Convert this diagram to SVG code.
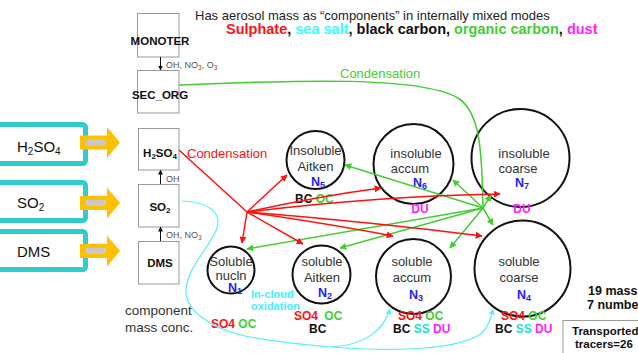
<svg xmlns="http://www.w3.org/2000/svg" width="638" height="353" viewBox="0 0 638 353">
<defs>
<style>
text{font-family:"Liberation Sans",Arial,sans-serif}
.src{fill:#fff;stroke:#33CCCC;stroke-width:5}
.srct{font-size:15px;fill:#111}
.ob{fill:#FFC000}
.gb{fill:#C8C8C8}
.box{fill:#fff;stroke:#999;stroke-width:1}
.bt{font-size:11.5px;font-weight:bold;text-anchor:middle;fill:#111}
.sm{font-size:9px;fill:#555}
.circ{fill:none;stroke:#111;stroke-width:2}
.cl{font-size:13px;fill:#333;text-anchor:middle}
.nl{font-size:12.5px;font-weight:bold;fill:#2222FF}
.comp{font-size:12px;font-weight:bold}
.red{stroke:#FF1111;stroke-width:1.5;fill:none}
.grn{stroke:#44CC33;stroke-width:1.5;fill:none}
.cyn{stroke:#55EEFF;stroke-width:1.2;fill:none}
</style>
<marker id="ar" viewBox="0 0 10 10" refX="9" refY="5" markerWidth="7" markerHeight="7" markerUnits="userSpaceOnUse" orient="auto"><path d="M0,0 L10,5 L0,10 z" fill="#FF1111"/></marker>
<marker id="ag" viewBox="0 0 10 10" refX="9" refY="5" markerWidth="7" markerHeight="7" markerUnits="userSpaceOnUse" orient="auto"><path d="M0,0 L10,5 L0,10 z" fill="#44CC33"/></marker>
<marker id="ac" viewBox="0 0 10 10" refX="9" refY="5" markerWidth="6" markerHeight="6" markerUnits="userSpaceOnUse" orient="auto"><path d="M0,0 L10,5 L0,10 z" fill="#55EEFF"/></marker>
<marker id="ak" viewBox="0 0 10 10" refX="9" refY="5" markerWidth="5" markerHeight="5" markerUnits="userSpaceOnUse" orient="auto"><path d="M0,0 L10,5 L0,10 z" fill="#111"/></marker>
<path id="oarrow" d="M0,-7 L27,-7 L27,-15.5 L40,0 L27,15.5 L27,7 L0,7 z"/>
</defs>

<rect width="638" height="353" fill="#fff"/>

<!-- header -->
<text x="195" y="20" font-size="13" fill="#222">Has aerosol mass as “components”  in internally mixed modes</text>
<text x="226" y="34" font-size="14.5" font-weight="bold"><tspan fill="#FF1111">Sulphate</tspan><tspan fill="#111">, </tspan><tspan fill="#33FFFF">sea salt</tspan><tspan fill="#111">, black carbon, </tspan><tspan fill="#44CC33">organic carbon</tspan><tspan fill="#111">, </tspan><tspan fill="#FF22FF">dust</tspan></text>

<!-- source boxes -->
<g id="src-h2so4">
<rect class="src" x="-5" y="124.5" width="90.5" height="39" rx="3"/>
<text class="srct" x="17" y="152">H<tspan font-size="10" dy="3">2</tspan><tspan dy="-3">SO</tspan><tspan font-size="10" dy="3">4</tspan></text>
<use href="#oarrow" x="80" y="142.5" class="ob"/>
<rect class="gb" x="86" y="139.5" width="20" height="6"/>
</g>
<g id="src-so2">
<rect class="src" x="-5" y="182.5" width="90.5" height="38" rx="3"/>
<text class="srct" x="17" y="208">SO<tspan font-size="10" dy="3">2</tspan></text>
<use href="#oarrow" x="80" y="203" class="ob"/>
<rect class="gb" x="86" y="200" width="20" height="6"/>
</g>
<g id="src-dms">
<rect class="src" x="-5" y="231.5" width="90.5" height="38" rx="3"/>
<text class="srct" x="17" y="257">DMS</text>
<use href="#oarrow" x="80" y="251" class="ob"/>
<rect class="gb" x="86" y="248" width="20" height="6"/>
</g>

<!-- chemistry column -->
<g id="monoter">
<rect class="box" x="137.5" y="13.5" width="41.5" height="43.5"/>
<text class="bt" x="160" y="45">MONOTER</text>
</g>
<g id="sec_org">
<rect class="box" x="137.5" y="70.5" width="41.5" height="42.5" stroke="#99DD99"/>
<text class="bt" x="160" y="99" fill="#22CC22">SEC_ORG</text>
</g>
<g id="h2so4">
<rect class="box" x="138.5" y="128.5" width="40.5" height="41.5" stroke="#FF9999"/>
<text class="bt" x="160" y="157" fill="#FF1111">H<tspan font-size="8" dy="2">2</tspan><tspan dy="-2">SO</tspan><tspan font-size="8" dy="2">4</tspan></text>
</g>
<g id="so2">
<rect class="box" x="138.5" y="184.5" width="40.5" height="42.5"/>
<text class="bt" x="160" y="211">SO<tspan font-size="8" dy="2">2</tspan></text>
</g>
<g id="dms">
<rect class="box" x="138.5" y="241.5" width="40.5" height="42.5"/>
<text class="bt" x="160" y="267">DMS</text>
</g>
<text x="125" y="315" font-size="13.5" fill="#333">component</text>
<text x="125" y="332" font-size="13.5" fill="#333">mass conc.</text>

<!-- modes -->
<g id="ins-aitken">
<circle class="circ" cx="315.5" cy="160" r="29"/>
<text class="cl" x="315.5" y="155">Insoluble</text>
<text class="cl" x="315.5" y="171">Aitken</text>
<text class="nl" x="311" y="186">N<tspan font-size="9" dy="2">5</tspan></text>
<text class="comp" x="295" y="203"><tspan fill="#111">BC </tspan><tspan fill="#44CC33">OC</tspan></text>
</g>
<g id="ins-accum">
<circle class="circ" cx="413.5" cy="164" r="40"/>
<text class="cl" x="416" y="158">insoluble</text>
<text class="cl" x="410" y="173">accum</text>
<text class="nl" x="413" y="187">N<tspan font-size="9" dy="2">6</tspan></text>
<text class="comp" x="420" y="213" fill="#FF22FF" text-anchor="middle">DU</text>
</g>
<g id="ins-coarse">
<circle class="circ" cx="520.5" cy="158" r="49"/>
<text class="cl" x="524" y="158">insoluble</text>
<text class="cl" x="518" y="173">coarse</text>
<text class="nl" x="515" y="187">N<tspan font-size="9" dy="2">7</tspan></text>
<text class="comp" x="522" y="213" fill="#FF22FF" text-anchor="middle">DU</text>
</g>
<g id="sol-nucln">
<circle class="circ" cx="231" cy="270" r="23.5"/>
<text class="cl" x="231" y="266" font-size="10.5">Soluble</text>
<text class="cl" x="231" y="280" font-size="10.5">nucln</text>
<text class="nl" x="228" y="292">N<tspan font-size="9" dy="2">1</tspan></text>
<text class="comp" x="211" y="328"><tspan fill="#FF1111">SO4 </tspan><tspan fill="#44CC33">OC</tspan></text>
</g>
<g id="sol-aitken">
<circle class="circ" cx="321.5" cy="274.5" r="29"/>
<text class="cl" x="322" y="266">soluble</text>
<text class="cl" x="322" y="282">Aitken</text>
<text class="nl" x="318" y="297">N<tspan font-size="9" dy="2">2</tspan></text>
<text class="comp" x="294" y="320"><tspan fill="#FF1111">SO4 </tspan><tspan fill="#44CC33" dx="3">OC</tspan></text>
<text class="comp" x="309" y="333" fill="#111">BC</text>
</g>
<g id="sol-accum">
<circle class="circ" cx="413.5" cy="276.5" r="37.5"/>
<text class="cl" x="412" y="266">soluble</text>
<text class="cl" x="412" y="282">accum</text>
<text class="nl" x="409" y="299">N<tspan font-size="9" dy="2">3</tspan></text>
<text class="comp" x="398" y="320"><tspan fill="#FF1111">SO4 </tspan><tspan fill="#44CC33">OC</tspan></text>
<text class="comp" x="393" y="333"><tspan fill="#111">BC </tspan><tspan fill="#2BE0C8">SS </tspan><tspan fill="#FF22FF">DU</tspan></text>
</g>
<g id="sol-coarse">
<circle class="circ" cx="522.5" cy="268.5" r="48"/>
<text class="cl" x="519" y="266">soluble</text>
<text class="cl" x="519" y="282">coarse</text>
<text class="nl" x="517" y="299">N<tspan font-size="9" dy="2">4</tspan></text>
<text class="comp" x="501" y="320"><tspan fill="#FF1111">SO4 </tspan><tspan fill="#44CC33">OC</tspan></text>
<text class="comp" x="495" y="333"><tspan fill="#111">BC </tspan><tspan fill="#2BE0C8">SS </tspan><tspan fill="#FF22FF">DU</tspan></text>
</g>

<!-- connectors -->
<g id="connectors">
<line x1="160.5" y1="57" x2="160.5" y2="70" stroke="#111" stroke-width="1" marker-end="url(#ak)"/>
<line x1="160.5" y1="184" x2="160.5" y2="170" stroke="#111" stroke-width="1" marker-end="url(#ak)"/>
<line x1="160.5" y1="241" x2="160.5" y2="227" stroke="#111" stroke-width="1" marker-end="url(#ak)"/>

<path class="grn" d="M179,85 C300,80 420,76 458,98 C480,112 482,150 483,208"/>
<line class="grn" x1="483" y1="208" x2="345" y2="165" marker-end="url(#ag)"/>
<line class="grn" x1="483" y1="208" x2="453" y2="180" marker-end="url(#ag)"/>
<line class="grn" x1="483" y1="208" x2="491" y2="195" marker-end="url(#ag)"/>
<line class="grn" x1="483" y1="208" x2="493" y2="225" marker-end="url(#ag)"/>
<line class="grn" x1="483" y1="208" x2="450" y2="248" marker-end="url(#ag)"/>
<line class="grn" x1="483" y1="208" x2="340" y2="248" marker-end="url(#ag)"/>
<line class="grn" x1="483" y1="208" x2="247" y2="249" marker-end="url(#ag)"/>

<path class="red" d="M179,150 L247,212"/>
<line class="red" x1="247" y1="212" x2="287" y2="175" marker-end="url(#ar)"/>
<line class="red" x1="247" y1="212" x2="242" y2="243" marker-end="url(#ar)"/>
<line class="red" x1="247" y1="212" x2="303" y2="244" marker-end="url(#ar)"/>
<path class="red" d="M247,212 Q320,196 381,188" marker-end="url(#ar)"/>
<path class="red" d="M247,212 Q380,196 500,194" marker-end="url(#ar)"/>
<path class="red" d="M247,212 Q330,224 393,236" marker-end="url(#ar)"/>
<path class="red" d="M247,212 Q370,222 482,236" marker-end="url(#ar)"/>

<path class="cyn" d="M182,201 C208,202 222,212 217,228 C210,248 188,265 186,290 C185,310 210,328 245,336 C275,342 305,345 332,347"/>
<path class="cyn" d="M332,347 C365,345 384,330 390,309" marker-end="url(#ac)"/>
<path class="cyn" d="M332,347 C390,352 460,350 482,333 C489,326 491,318 493,309" marker-end="url(#ac)"/>
</g>

<!-- labels -->
<text x="340" y="78" font-size="13" fill="#44CC33">Condensation</text>
<text x="187" y="158" font-size="13" fill="#FF1111">Condensation</text>
<text class="sm" x="166" y="68">OH, NO<tspan font-size="6.5" dy="2">3</tspan><tspan dy="-2">, O</tspan><tspan font-size="6.5" dy="2">3</tspan></text>
<text class="sm" x="166" y="182">OH</text>
<text class="sm" x="166" y="238">OH, NO<tspan font-size="6.5" dy="2">3</tspan></text>
<text x="251" y="298" font-size="11" font-weight="bold" fill="#44EEFF">In-cloud</text>
<text x="251" y="310" font-size="11" font-weight="bold" fill="#44EEFF">oxidation</text>

<text x="588" y="295" font-size="12.5" font-weight="bold" fill="#111">19 mass</text>
<text x="587" y="309" font-size="12.5" font-weight="bold" fill="#111">7 number</text>
<g id="tracers">
<rect x="563" y="320.5" width="80" height="40" fill="#fff" stroke="#999" stroke-width="1"/>
<text x="572" y="335" font-size="11.5" font-weight="bold" fill="#111">Transported</text>
<text x="575" y="348" font-size="11.5" font-weight="bold" fill="#111">tracers=26</text>
</g>
</svg>
